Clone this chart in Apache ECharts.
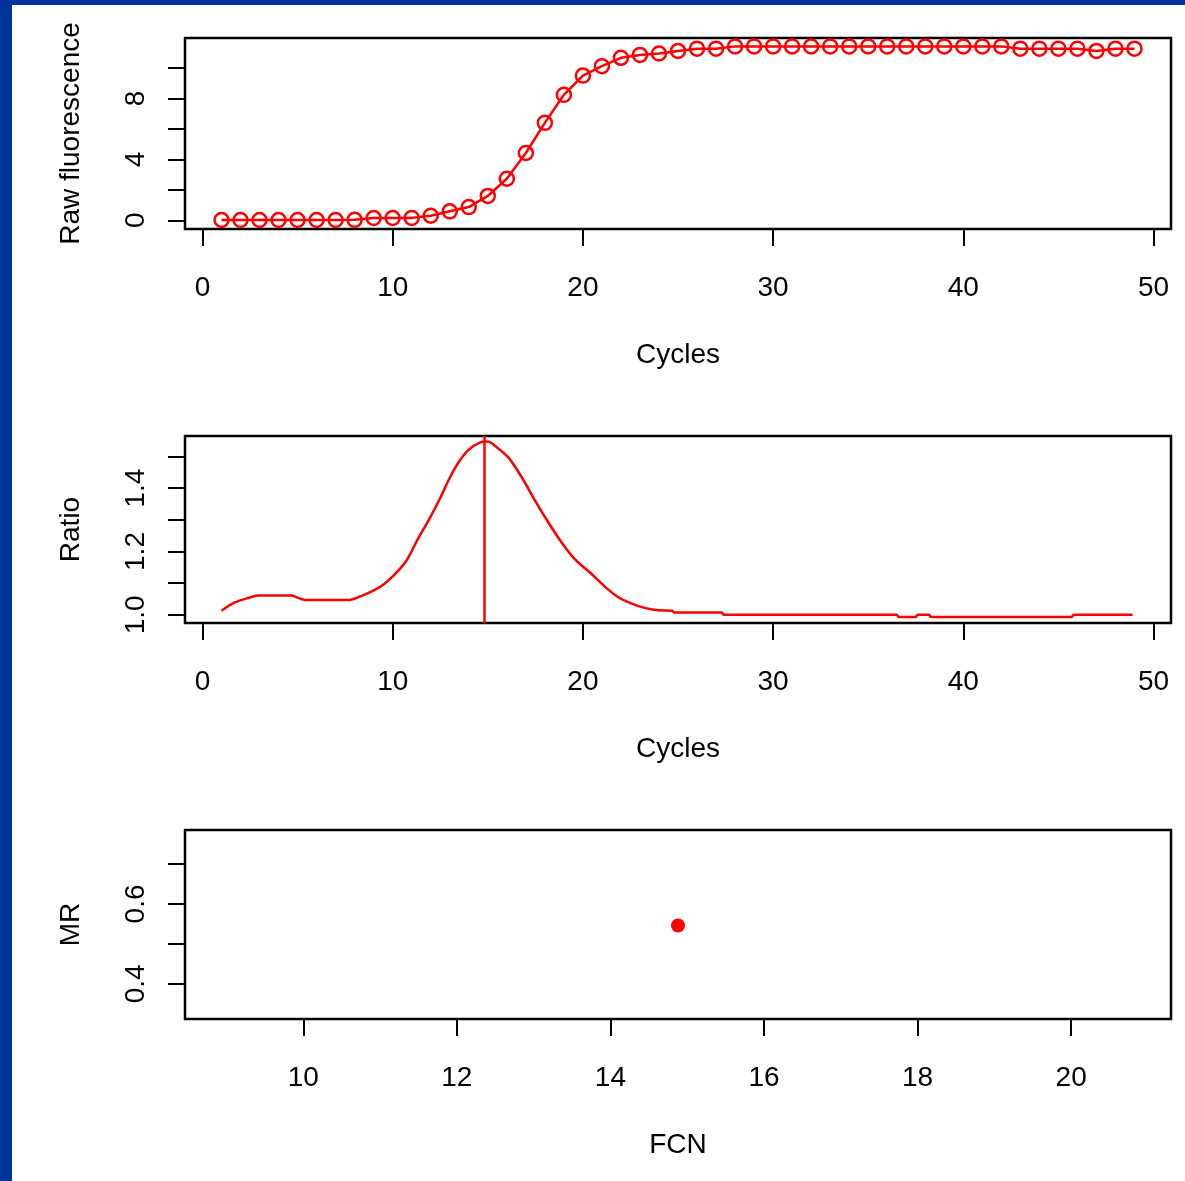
<!DOCTYPE html>
<html>
<head>
<meta charset="utf-8">
<script src="https://cdn.jsdelivr.net/npm/echarts@6/dist/echarts.min.js"></script>
<style>
	html, body { margin: 0; padding: 0; background: #fff; }
	#chart { width: 1185px; height: 1181px; }
</style>
</head>
<body>
<div id="chart"></div>
<script>
	'use strict'
	/*--data--*/
	var cycles = [1, 2, 3, 4, 5, 6, 7, 8, 9, 10, 11, 12, 13, 14, 15, 16, 17, 18, 19, 20, 21, 22, 23, 24, 25,
		26, 27, 28, 29, 30, 31, 32, 33, 34, 35, 36, 37, 38, 39, 40, 41, 42, 43, 44, 45, 46, 47, 48, 49];
	var fluorescence = [0.02, 0.02, 0.02, 0.02, 0.02, 0.02, 0.02, 0.03, 0.15, 0.15, 0.16, 0.3, 0.59, 0.87, 1.6, 2.73, 4.42, 6.4, 8.24, 9.5,
		10.12, 10.67, 10.86, 10.95, 11.12, 11.27, 11.27, 11.42, 11.42, 11.42, 11.42, 11.42, 11.42, 11.42, 11.42, 11.42, 11.42, 11.42, 11.42, 11.42,
		11.42, 11.42, 11.27, 11.27, 11.27, 11.27, 11.12, 11.27, 11.27];

	var ratioCycles = [1.0, 1.7, 2.4, 2.9, 4.7, 5.0, 5.4, 7.7, 8.3, 8.9, 9.5, 10.0, 10.7, 11.3, 11.9, 12.5, 13.0, 13.5, 14.0, 14.6,
		15.0, 15.4, 16.1, 16.8, 17.5, 18.2, 18.9, 19.6, 20.4, 21.1, 21.8, 22.5, 23.3, 24.0, 24.7, 24.8, 27.3, 27.4, 36.5, 36.6,
		37.5, 37.6, 38.2, 38.3, 45.7, 45.8, 48.9];
	var ratioValues = [1.013, 1.039, 1.053, 1.061, 1.061, 1.054, 1.047, 1.047, 1.058, 1.074, 1.095, 1.121, 1.169, 1.237, 1.300, 1.369, 1.433, 1.485, 1.522, 1.545,
		1.548, 1.533, 1.496, 1.433, 1.359, 1.290, 1.227, 1.174, 1.132, 1.092, 1.058, 1.037, 1.021, 1.014, 1.013, 1.007, 1.007, 1.000, 1.000, 0.993,
		0.993, 1.000, 1.000, 0.993, 0.993, 1.000, 1.000];
	var peakCycle = 14.8;

	var fcn = [14.88];
	var mr = [0.546];

	var cycleTicks = [0, 10, 20, 30, 40, 50];
	var fluoTicks = [0, 2, 4, 6, 8, 10];
	var fluoLabels = [0, 4, 8];
	var ratioTicks = [1.0, 1.1, 1.2, 1.3, 1.4, 1.5];
	var ratioLabels = [1.0, 1.2, 1.4];
	var fcnTicks = [10, 12, 14, 16, 18, 20];
	var mrTicks = [0.4, 0.5, 0.6, 0.7];
	var mrLabels = [0.4, 0.6];
	/*--data--*/

	function zip(xs, ys) {
		return xs.map(function(x, i) { return [x, ys[i]]; });
	}

	var font = 'Liberation Sans, Arial, sans-serif';
	var red = '#ff0000';
	var fs = 28;

	function xAxis(idx, min, max, ticks, name, digits) {
		return {
			type: 'value',
			gridIndex: idx,
			min: min,
			max: max,
			name: name,
			nameLocation: 'middle',
			nameGap: 112,
			nameTextStyle: { fontSize: fs, color: '#000', fontFamily: font },
			axisLine: { show: false, onZero: false },
			axisTick: { show: true, length: 17, customValues: ticks, lineStyle: { color: '#000', width: 2 } },
			axisLabel: {
				customValues: ticks,
				margin: 45,
				fontSize: fs,
				color: '#000',
				fontFamily: font,
				formatter: function(v) { return v.toFixed(digits); }
			},
			splitLine: { show: false }
		};
	}

	function yAxis(idx, min, max, ticks, labels, name, digits) {
		return {
			type: 'value',
			gridIndex: idx,
			min: min,
			max: max,
			name: name,
			nameLocation: 'middle',
			nameRotate: 90,
			nameGap: 100,
			nameTextStyle: { fontSize: fs, color: '#000', fontFamily: font },
			axisLine: { show: false, onZero: false },
			axisTick: { show: true, length: 17, customValues: ticks, lineStyle: { color: '#000', width: 2 } },
			axisLabel: {
				customValues: labels,
				rotate: 90,
				margin: 35,
				fontSize: fs,
				color: '#000',
				fontFamily: font,
				formatter: function(v) { return v.toFixed(digits); }
			},
			splitLine: { show: false }
		};
	}

	var gridBase = { left: 185, right: 14, show: true, borderColor: '#000', borderWidth: 2.5, backgroundColor: 'transparent' };

	var chart = echarts.init(document.getElementById('chart'));
	var option = {
		animation: false,
		backgroundColor: '#fff',
		textStyle: { fontFamily: font },
		graphic: [
			{ type: 'rect', left: 0, top: 0, shape: { width: 12, height: 1181 }, style: { fill: '#003399' }, z: 100 },
			{ type: 'rect', left: 0, top: 0, shape: { width: 1185, height: 5 }, style: { fill: '#003399' }, z: 100 }
		],
		grid: [
			Object.assign({ top: 38, height: 191 }, gridBase),
			Object.assign({ top: 436, height: 187 }, gridBase),
			Object.assign({ top: 830, height: 189 }, gridBase)
		],
		xAxis: [
			xAxis(0, -0.92, 50.92, cycleTicks, 'Cycles', 0),
			xAxis(1, -0.92, 50.92, cycleTicks, 'Cycles', 0),
			xAxis(2, 8.46, 21.30, fcnTicks, 'FCN', 0)
		],
		yAxis: [
			yAxis(0, -0.57, 11.97, fluoTicks, fluoLabels, 'Raw fluorescence', 0),
			yAxis(1, 0.974, 1.565, ratioTicks, ratioLabels, 'Ratio', 1),
			yAxis(2, 0.312, 0.785, mrTicks, mrLabels, 'MR', 1)
		],
		series: [{
			name: 'fluorescence',
			type: 'line',
			xAxisIndex: 0,
			yAxisIndex: 0,
			data: zip(cycles, fluorescence),
			symbol: 'circle',
			symbolSize: 14,
			itemStyle: { color: 'rgba(0,0,0,0)', borderColor: red, borderWidth: 2.5 },
			lineStyle: { color: red, width: 2.5 }
		}, {
			name: 'ratio',
			type: 'line',
			xAxisIndex: 1,
			yAxisIndex: 1,
			data: zip(ratioCycles, ratioValues),
			showSymbol: false,
			smooth: 0.3,
			lineStyle: { color: red, width: 2.5 },
			markLine: {
				silent: true,
				symbol: ['none', 'none'],
				label: { show: false },
				lineStyle: { color: red, width: 2.5, type: 'solid' },
				data: [{ xAxis: peakCycle }]
			}
		}, {
			name: 'MR',
			type: 'scatter',
			xAxisIndex: 2,
			yAxisIndex: 2,
			data: zip(fcn, mr),
			symbol: 'circle',
			symbolSize: 14,
			itemStyle: { color: red, opacity: 1 }
		}]
	};
	chart.setOption(option);
</script>
</body>
</html>
